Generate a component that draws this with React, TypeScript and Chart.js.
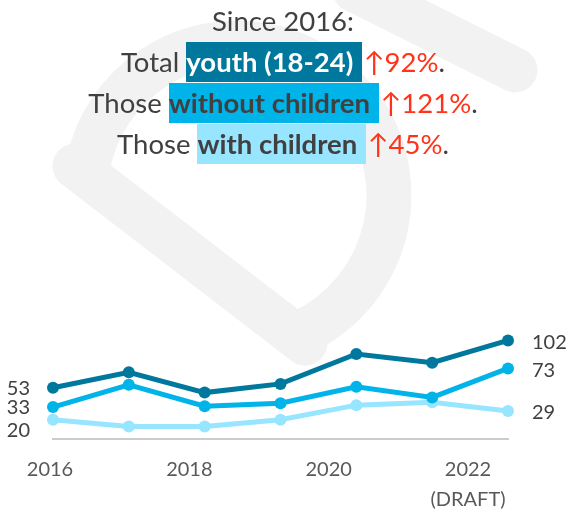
import React, { useEffect, useRef } from 'react';
import { Chart, registerables } from 'chart.js';

Chart.register(...registerables);

// ---- data ----
const years = ['2016', '2017', '2018', '2019', '2020', '2021', '2022'];
const totalYouth = [53, 69, 48, 57, 88, 79, 102];
const withoutChildren = [33, 56, 34, 37, 54, 43, 73];
const withChildren = [20, 13, 13, 20, 35, 38, 29];
const tickYears = [2016, 2018, 2020, 2022];
const draftYear = 2022;
const draftNote = '(DRAFT)';

// ---- styles ----
const DARK = '#00789d';
const MID = '#00b3e8';
const LIGHT = '#97e5ff';
const TEXT = '#404040';
const AXIS_TEXT = '#595959';
const AXIS_LINE = '#cccccc';
const RED = '#ff3319';
const WATERMARK = '#f2f2f2';
const FONT = 'Lato, "Open Sans", sans-serif';

const W = 566;
const H = 515;

const watermark = {
  id: 'watermark',
  beforeDraw(chart: any) {
    const ctx = chart.ctx;
    ctx.save();
    ctx.strokeStyle = WATERMARK;
    ctx.lineWidth = 45;
    ctx.lineJoin = 'round';
    ctx.lineCap = 'round';
    const d2r = Math.PI / 180;
    ctx.beginPath();
    ctx.moveTo(305, 343);
    ctx.lineTo(75, 166);
    ctx.arc(237, 195, 152, 192 * d2r, 425 * d2r, false);
    ctx.closePath();
    ctx.stroke();
    ctx.beginPath();
    ctx.moveTo(355, -10);
    ctx.lineTo(515, 70);
    ctx.stroke();
    ctx.restore();
  },
};

const endLabels = {
  id: 'endLabels',
  afterDatasetsDraw(chart: any) {
    const ctx = chart.ctx;
    ctx.save();
    ctx.font = `20px ${FONT}`;
    ctx.fillStyle = TEXT;
    ctx.textBaseline = 'middle';
    chart.data.datasets.forEach((ds: any, i: number) => {
      const meta = chart.getDatasetMeta(i);
      const pts = meta.data;
      const first = pts[0];
      const last = pts[pts.length - 1];
      ctx.textAlign = 'right';
      ctx.fillText(String(ds.data[0]), first.x - 23, first.y + ds.startLabelDy);
      ctx.textAlign = 'left';
      ctx.fillText(String(ds.data[ds.data.length - 1]), last.x + 24, last.y + ds.endLabelDy);
    });
    ctx.restore();
  },
};

function lineDataset(label: string, data: number[], color: string, startDy: number, endDy: number) {
  return {
    label,
    data,
    borderColor: color,
    backgroundColor: color,
    pointBackgroundColor: color,
    pointBorderColor: color,
    borderWidth: 5,
    pointRadius: 6,
    pointBorderWidth: 0,
    tension: 0,
    clip: false as any,
    xAxisID: 'x',
    yAxisID: 'y',
    startLabelDy: startDy,
    endLabelDy: endDy,
  } as any;
}

export default function App() {
  const ref = useRef<HTMLCanvasElement | null>(null);

  useEffect(() => {
    const canvas = ref.current;
    if (!canvas) return;
    const chart = new Chart(canvas, {
      type: 'line',
      data: {
        labels: years,
        datasets: [
          lineDataset('Those without children', withoutChildren, MID, 0, 2),
          lineDataset('Total youth (18-24)', totalYouth, DARK, 1, 2),
          lineDataset('Those with children', withChildren, LIGHT, 11, 2),
        ],
      },
      options: {
        responsive: false,
        animation: false,
        devicePixelRatio: 1,
        layout: { padding: { left: 53, right: 58, top: 323, bottom: 0 } },
        plugins: {
          legend: { display: false },
          tooltip: { enabled: false },
        },
        scales: {
          x: {
            type: 'category',
            display: false,
            offset: false,
          },
          xl: {
            type: 'linear',
            position: 'bottom',
            min: 2016.043,
            max: 2022.574,
            afterBuildTicks: (axis: any) => {
              axis.ticks = tickYears.map((v) => ({ value: v }));
            },
            afterFit: (axis: any) => {
              axis.height = 76;
            },
            grid: { display: false, drawTicks: false },
            border: { display: true, color: AXIS_LINE, width: 2 },
            ticks: {
              autoSkip: false,
              maxRotation: 0,
              padding: 16,
              color: AXIS_TEXT,
              font: { family: FONT, size: 20, lineHeight: 1.5 },
              callback: (v: any) => (v === draftYear ? [String(v), draftNote] : String(v)),
            },
          } as any,
          y: {
            display: false,
            min: 0,
            max: 120,
          },
        },
      },
      plugins: [watermark, endLabels],
    });
    return () => chart.destroy();
  }, []);

  const box = (bg: string, color: string) => ({
    background: bg,
    color,
    fontWeight: 700,
    display: 'inline-block',
    height: 40,
    paddingRight: 2,
  });

  return (
    <div
      style={{
        position: 'fixed',
        left: 0,
        top: 0,
        width: W,
        height: H,
        overflow: 'hidden',
        background: '#ffffff',
      }}
    >
      <canvas ref={ref} width={W} height={H} style={{ position: 'absolute', left: 0, top: 0, width: W, height: H }} />
      <div
        style={{
          position: 'absolute',
          left: 0,
          top: 1,
          width: W,
          textAlign: 'center',
          fontFamily: FONT,
          fontSize: 27.5,
          lineHeight: '40px',
          color: TEXT,
          whiteSpace: 'nowrap',
        }}
      >
        <div style={{ height: 41 }}>Since 2016:</div>
        <div style={{ height: 41 }}>
          Total <span style={box(DARK, '#ffffff')}>youth (18-24)&nbsp;</span>
          <span style={{ color: RED, marginLeft: 2 }}>↑92%</span>.
        </div>
        <div style={{ height: 41 }}>
          Those <span style={box(MID, TEXT)}>without children&nbsp;</span>
          <span style={{ color: RED, marginLeft: 2 }}>↑121%</span>.
        </div>
        <div style={{ height: 41 }}>
          Those <span style={box(LIGHT, TEXT)}>with children&nbsp;</span>
          <span style={{ color: RED, marginLeft: 2 }}>↑45%</span>.
        </div>
      </div>
    </div>
  );
}
